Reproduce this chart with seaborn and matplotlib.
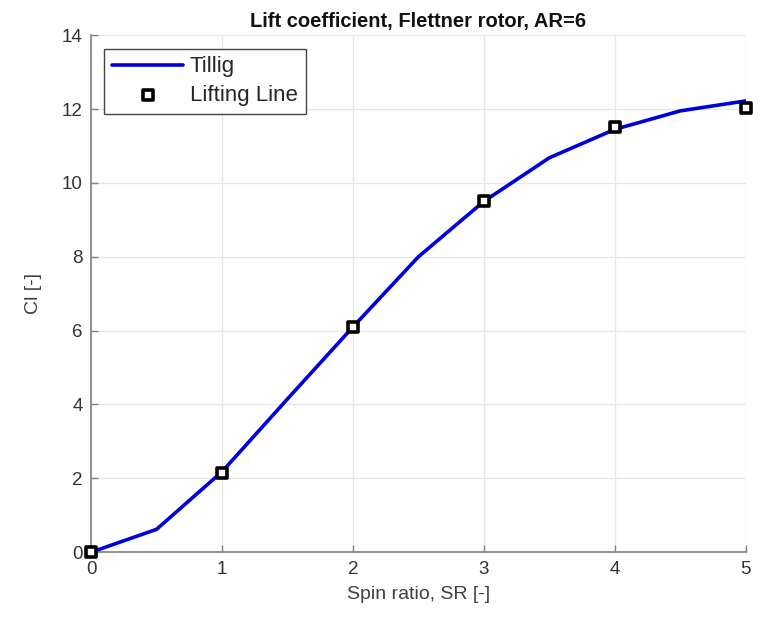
import numpy as np
import pandas as pd
import matplotlib
matplotlib.use("Agg")
import matplotlib.pyplot as plt
import seaborn as sns

# ── Data ──────────────────────────────────────────────────────────────────────
tillig_sr = [0, 0.5, 1, 1.5, 2, 2.5, 3, 3.5, 4, 4.5, 5]
tillig_cl = [0, 0.62, 2.18, 4.15, 6.1, 8.0, 9.5, 10.68, 11.45, 11.95, 12.22]

ll_sr = [0, 1, 2, 3, 4, 5]
ll_cl = [0, 2.15, 6.1, 9.5, 11.5, 12.02]

x_ticks = [0, 1, 2, 3, 4, 5]
y_ticks = [0, 2, 4, 6, 8, 10, 12, 14]

# ── Style ─────────────────────────────────────────────────────────────────────
sns.set_theme(style="white")
plt.rcParams["font.family"] = ["Liberation Sans", "DejaVu Sans"]
plt.rcParams["xtick.bottom"] = True
plt.rcParams["ytick.left"] = True

fig = plt.figure(figsize=(7.72, 6.17), dpi=100)
ax = fig.add_axes([0.118, 0.105, 0.848, 0.838])

df_t = pd.DataFrame({"SR": tillig_sr, "Cl": tillig_cl})
df_l = pd.DataFrame({"SR": ll_sr, "Cl": ll_cl})

sns.lineplot(data=df_t, x="SR", y="Cl", ax=ax, color="#0000dd", linewidth=2.6,
             label="Tillig", zorder=3)
sns.scatterplot(data=df_l, x="SR", y="Cl", ax=ax, marker="s", s=45,
                facecolor="white", edgecolor="black", linewidth=2.6,
                label="Lifting Line", zorder=4, clip_on=False)

ax.set_xlim(0, 5)
ax.set_ylim(0, 14)
ax.set_xticks(x_ticks)
ax.set_yticks(y_ticks)
ax.grid(True, color="#e6e6e6", linewidth=0.9)
ax.set_axisbelow(True)

for s in ["top", "right"]:
    ax.spines[s].set_visible(False)
for s in ["left", "bottom"]:
    ax.spines[s].set_color("#808080")
    ax.spines[s].set_linewidth(1.2)

ax.tick_params(direction="in", length=5, width=1, color="#808080",
               labelsize=13.5, labelcolor="#333333", pad=6)

ax.set_xlabel("Spin ratio, SR [-]", fontsize=14, color="#404040", labelpad=6)
ax.set_ylabel("Cl [-]", fontsize=14, color="#404040", labelpad=14)
ax.set_title("Lift coefficient, Flettner rotor, AR=6", fontsize=14.5,
             fontweight="bold", color="#111111", pad=6)

leg = ax.legend(loc="upper left", fontsize=16, frameon=True, fancybox=False,
                edgecolor="#444444", framealpha=1, borderaxespad=0.6,
                handlelength=3.2, handletextpad=0.3, borderpad=0.35,
                labelspacing=0.35)
leg.get_frame().set_linewidth(1.0)

plt.savefig("out.png", dpi=100)
plt.close()
